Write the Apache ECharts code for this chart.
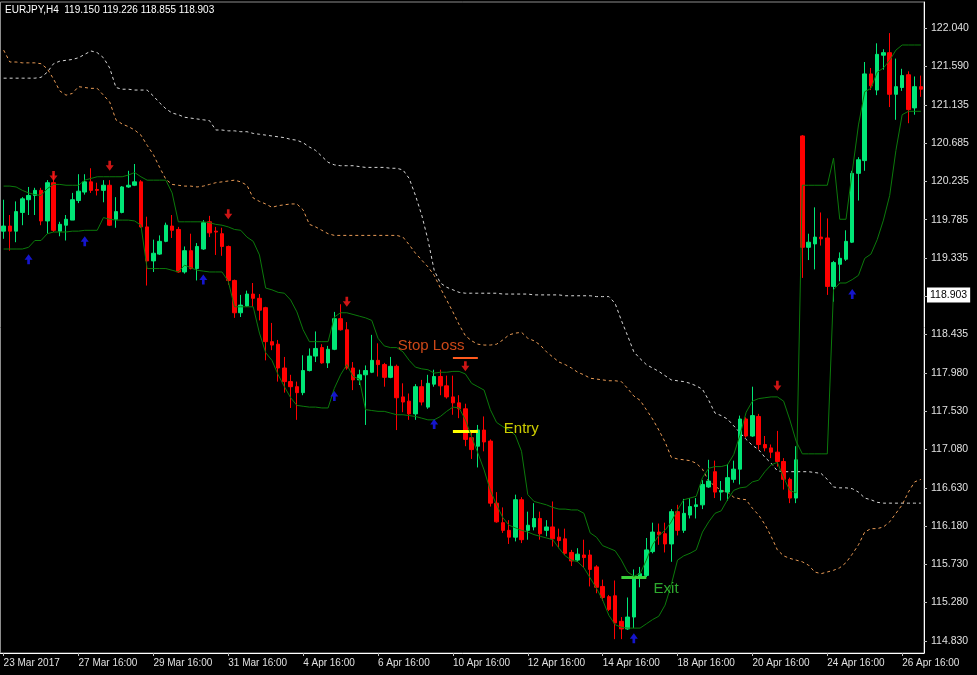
<!DOCTYPE html>
<html><head><meta charset="utf-8">
<script src="https://cdn.jsdelivr.net/npm/echarts@6/dist/echarts.min.js"></script>
<style>html,body{margin:0;padding:0;background:#000;}#c{width:977px;height:675px;}</style>
</head><body><div id="c"></div>
<script>
// ---- data (EURJPY H4) ----
const headerText = 'EURJPY,H4  119.150 119.226 118.855 118.903';
const xTickLabels = ['23 Mar 2017','27 Mar 16:00','29 Mar 16:00','31 Mar 16:00','4 Apr 16:00','6 Apr 16:00','10 Apr 16:00','12 Apr 16:00','14 Apr 16:00','18 Apr 16:00','20 Apr 16:00','24 Apr 16:00','26 Apr 16:00'];
const yTickValues = [122.040,121.590,121.135,120.685,120.235,119.785,119.335,118.435,117.980,117.530,117.080,116.630,116.180,115.730,115.280,114.830];
const yTickMarks = [122.040,121.590,121.135,120.685,120.235,119.785,119.335,118.885,118.435,117.980,117.530,117.080,116.630,116.180,115.730,115.280,114.830];
const lastPrice = 118.903;
const yMin = 114.687, yMax = 122.346;

const open = [
119.65,119.71,119.65,119.87,120.02,120.07,120.13,119.77,120.22,119.65,
119.72,119.78,120.01,120.11,120.23,120.14,120.13,120.19,119.79,119.87,
120.17,120.19,120.23,119.70,119.30,119.38,119.53,119.71,119.67,119.17,
119.42,119.21,119.44,119.76,119.65,119.62,119.47,119.07,118.69,118.77,
118.91,118.86,118.75,118.35,118.32,118.04,117.88,117.82,117.75,118.01,
118.18,118.28,118.10,118.26,118.62,118.49,118.04,117.90,117.96,117.99,
118.13,118.08,117.93,118.06,117.70,117.65,117.50,117.82,117.58,117.85,
117.94,117.83,117.70,117.63,117.56,117.22,117.12,117.31,117.18,116.45,
116.22,116.13,116.05,116.49,116.13,116.17,116.27,116.13,116.17,116.05,
116.03,115.87,115.78,115.84,115.84,115.70,115.47,115.35,115.36,115.06,
114.97,115.11,115.58,115.60,115.88,116.11,116.09,115.97,116.35,116.13,
116.31,116.41,116.43,116.64,116.82,116.58,116.58,116.73,116.85,117.44,
117.24,117.47,117.14,117.10,117.05,116.94,116.73,116.51,120.77,119.46,
119.50,119.58,119.57,119.00,119.26,119.32,119.52,120.33,120.48,121.50,
121.31,121.72,121.75,121.26,121.34,121.49,121.10,121.35];
const close = [
119.71,119.65,119.88,120.03,120.07,120.13,119.77,120.22,119.66,119.73,
119.79,120.02,120.12,120.23,120.13,120.13,120.19,119.72,119.88,120.17,
120.19,120.23,119.70,119.30,119.39,119.53,119.72,119.66,119.17,119.42,
119.21,119.47,119.75,119.63,119.64,119.47,119.07,118.69,118.78,118.91,
118.86,118.72,118.35,118.31,118.04,117.88,117.82,117.75,118.01,118.18,
118.27,118.10,118.26,118.62,118.49,118.04,117.90,117.96,118.01,118.13,
118.08,117.93,118.06,117.69,117.64,117.50,117.82,117.64,117.86,117.94,
117.83,117.70,117.63,117.56,117.20,117.08,117.31,117.17,116.45,116.23,
116.13,116.05,116.49,116.02,116.19,116.27,116.09,116.17,116.03,116.01,
115.86,115.77,115.85,115.81,115.67,115.46,115.34,115.20,115.04,114.97,
115.11,115.58,115.62,115.90,116.11,116.08,115.97,116.35,116.13,116.33,
116.41,116.43,116.67,116.71,116.58,116.60,116.75,116.85,117.44,117.24,
117.48,117.14,117.10,117.05,116.94,116.73,116.51,116.96,119.46,119.52,
119.58,119.56,119.00,119.28,119.33,119.53,120.33,120.49,121.50,121.36,
121.73,121.75,121.26,121.35,121.48,121.08,121.35,121.32];
const low = [
119.56,119.42,119.52,119.72,119.84,119.84,119.72,119.62,119.64,119.59,
119.54,119.78,119.98,120.08,120.10,120.07,119.99,119.71,119.69,119.86,
120.16,120.18,119.69,119.01,119.17,119.37,119.52,119.57,119.16,119.15,
119.20,119.07,119.43,119.58,119.37,119.36,119.02,118.63,118.64,118.76,
118.76,118.60,118.13,118.25,117.88,117.75,117.57,117.43,117.72,118.00,
118.11,118.09,118.04,118.25,118.48,118.02,117.78,117.84,117.37,117.98,
117.94,117.82,117.92,117.31,117.52,117.43,117.43,117.60,117.56,117.82,
117.72,117.68,117.49,117.45,117.12,116.97,116.87,117.06,116.41,116.22,
116.10,115.97,116.00,115.98,116.02,116.13,116.02,116.06,115.94,115.92,
115.84,115.71,115.76,115.69,115.47,115.39,115.30,115.18,114.85,114.85,
114.96,114.98,115.46,115.58,115.86,115.96,115.87,115.76,116.07,116.10,
116.27,116.27,116.38,116.63,116.51,116.48,116.48,116.69,116.67,117.22,
117.23,117.08,117.06,116.98,116.88,116.61,116.45,116.45,119.10,119.31,
119.20,119.48,118.90,118.82,119.06,119.30,119.51,120.01,120.36,121.31,
121.25,121.55,121.11,120.96,121.30,120.92,121.02,121.23];
const high = [
120.02,119.84,120.00,120.05,120.17,120.16,120.16,120.25,120.33,119.76,
119.84,120.10,120.32,120.32,120.39,120.22,120.25,120.25,120.05,120.18,
120.36,120.44,120.25,119.82,119.55,119.60,119.75,119.84,119.70,119.47,
119.62,119.51,119.78,119.83,119.70,119.69,119.48,119.08,118.90,118.95,
119.04,118.91,118.76,118.57,118.37,118.17,117.96,117.88,118.19,118.27,
118.47,118.32,118.30,118.70,118.79,118.58,118.11,118.02,118.07,118.43,
118.33,118.10,118.17,118.08,117.86,117.74,117.85,117.90,117.96,118.02,
118.02,117.95,117.95,117.72,117.62,117.30,117.37,117.47,117.20,116.58,
116.40,116.25,116.55,116.52,116.35,116.45,116.35,116.25,116.47,116.15,
116.15,115.90,115.92,116.02,115.90,115.72,115.55,115.37,115.54,115.11,
115.34,115.67,115.70,116.04,116.22,116.21,116.22,116.38,116.43,116.50,
116.51,116.51,116.72,116.96,116.95,116.71,116.91,116.95,117.48,117.46,
117.82,117.50,117.24,117.14,117.30,116.98,116.75,117.12,120.78,119.62,
119.93,119.87,119.80,119.30,119.40,119.66,120.36,120.52,121.64,121.57,
121.86,121.79,121.98,121.68,121.56,121.53,121.47,121.48];

const channelA = [
120.18,120.18,120.17,120.13,120.10,120.08,120.07,120.15,120.20,120.20,
120.19,120.19,120.19,120.25,120.27,120.29,120.29,120.29,120.29,120.29,
120.31,120.34,120.29,120.25,120.25,120.25,120.25,120.10,119.76,119.76,
119.76,119.76,119.76,119.75,119.73,119.72,119.70,119.67,119.66,119.58,
119.53,119.37,118.98,118.96,118.93,118.92,118.84,118.70,118.49,118.35,
118.35,118.35,118.35,118.64,118.69,118.69,118.67,118.65,118.63,118.60,
118.39,118.30,118.28,118.28,118.23,118.13,118.05,118.03,118.02,117.98,
117.99,117.99,118.00,118.00,117.97,117.86,117.82,117.78,117.55,117.40,
117.35,117.31,117.25,117.06,116.55,116.47,116.45,116.43,116.40,116.38,
116.38,116.37,116.37,116.33,116.10,116.05,115.95,115.92,115.89,115.78,
115.64,115.59,115.62,115.78,115.96,116.07,116.13,116.23,116.37,116.49,
116.51,116.53,116.75,116.86,116.88,116.88,116.90,117.02,117.25,117.52,
117.65,117.68,117.69,117.70,117.70,117.65,117.43,117.18,117.03,117.03,
117.03,117.03,117.03,118.96,119.04,119.04,119.08,119.13,119.33,119.38,
119.55,119.78,120.07,120.60,121.02,121.06,121.06,121.06];
const channelB = [
119.44,119.44,119.44,119.44,119.46,119.54,119.54,119.62,119.64,119.64,
119.64,119.65,119.65,119.66,119.66,119.66,119.81,119.79,119.78,119.78,
119.78,119.77,119.72,119.21,119.21,119.21,119.21,119.19,119.17,119.25,
119.22,119.19,119.18,119.17,119.17,119.17,119.06,118.76,118.76,118.76,
118.76,118.45,118.22,118.13,117.96,117.82,117.69,117.60,117.59,117.58,
117.58,117.57,117.57,117.80,117.96,118.08,117.94,117.91,117.55,117.54,
117.53,117.53,117.51,117.49,117.49,117.48,117.47,117.45,117.43,117.43,
117.47,117.53,117.58,117.57,117.43,117.23,117.04,116.84,116.60,116.43,
116.28,116.19,116.16,116.13,116.11,116.08,116.06,116.04,116.02,115.92,
115.83,115.78,115.76,115.69,115.57,115.45,115.31,115.13,115.02,114.99,
114.98,114.98,114.98,115.03,115.08,115.12,115.25,115.49,115.78,115.83,
115.86,115.90,116.11,116.23,116.33,116.36,116.49,116.60,116.63,116.64,
116.70,116.72,116.82,116.90,116.93,116.75,116.60,116.57,120.19,120.19,
120.19,120.19,120.19,120.51,119.79,119.79,120.35,120.90,121.29,121.33,
121.52,121.57,121.66,121.78,121.84,121.84,121.84,121.84];
const slowWhite = [
121.45,121.45,121.45,121.45,121.45,121.45,121.46,121.52,121.62,121.65,
121.66,121.67,121.69,121.73,121.77,121.75,121.69,121.57,121.34,121.32,
121.32,121.31,121.31,121.31,121.24,121.16,121.09,121.04,121.02,120.99,
120.98,120.97,120.96,120.95,120.84,120.84,120.83,120.83,120.82,120.82,
120.80,120.79,120.78,120.77,120.76,120.75,120.73,120.72,120.69,120.64,
120.60,120.53,120.46,120.43,120.42,120.42,120.42,120.41,120.40,120.40,
120.40,120.40,120.39,120.39,120.37,120.27,120.07,119.84,119.55,119.19,
119.04,118.99,118.96,118.93,118.92,118.92,118.92,118.92,118.92,118.92,
118.91,118.91,118.91,118.91,118.91,118.90,118.90,118.90,118.90,118.90,
118.89,118.89,118.89,118.89,118.89,118.88,118.88,118.88,118.80,118.60,
118.42,118.23,118.15,118.08,118.04,118.00,117.95,117.90,117.89,117.88,
117.86,117.83,117.79,117.66,117.51,117.48,117.44,117.36,117.28,117.20,
117.13,117.08,116.99,116.92,116.83,116.82,116.82,116.82,116.82,116.82,
116.81,116.80,116.73,116.64,116.63,116.63,116.62,116.58,116.51,116.49,
116.46,116.45,116.45,116.45,116.45,116.45,116.45,116.45];
const slowOrange = [
121.78,121.64,121.64,121.63,121.63,121.63,121.62,121.56,121.44,121.30,
121.25,121.27,121.35,121.34,121.33,121.33,121.25,121.17,120.96,120.91,
120.88,120.84,120.78,120.66,120.55,120.40,120.26,120.20,120.19,120.18,
120.18,120.17,120.18,120.20,120.22,120.23,120.24,120.25,120.23,120.19,
120.04,120.00,119.97,119.93,119.95,119.96,119.97,119.97,119.90,119.73,
119.70,119.66,119.62,119.60,119.60,119.60,119.60,119.60,119.60,119.60,
119.60,119.60,119.60,119.60,119.58,119.49,119.39,119.31,119.23,119.13,
118.98,118.84,118.70,118.55,118.42,118.36,118.32,118.31,118.31,118.32,
118.37,118.43,118.45,118.46,118.39,118.36,118.31,118.23,118.17,118.11,
118.08,118.04,117.99,117.96,117.92,117.91,117.90,117.89,117.89,117.88,
117.80,117.71,117.66,117.55,117.44,117.31,117.17,116.99,116.97,116.96,
116.95,116.92,116.85,116.71,116.65,116.60,116.58,116.52,116.50,116.49,
116.39,116.31,116.20,116.06,115.90,115.83,115.80,115.78,115.76,115.72,
115.64,115.62,115.64,115.66,115.69,115.75,115.85,115.96,116.11,116.15,
116.15,116.17,116.23,116.33,116.43,116.58,116.70,116.73];

const sellArrows = [[8,120.30],[17,120.42],[36,119.85],[55,118.82],[74,118.06],[124,117.83]];
const buyArrows = [[4,119.32],[13,119.53],[32,119.08],[53,117.71],[69,117.38],[101,114.86],[136,118.91]];
const noteTexts = ['Stop Loss','Entry','Exit'];
const noteAt = [[63,118.30],[80,117.32],[104,115.44]];
const levelNames = ['Stop Loss','Entry','Exit'];
const levelPrice = [118.16,117.30,115.58];
const levelBars = [[72,76],[72,76],[99,103]];

// ---- build ----
const categories = open.map((_, i) => String(i));
const candles = open.map((o, i) => [o, close[i], low[i], high[i]]);
const noteColors = {'Stop Loss':'#ff5a1e','Entry':'#ffff00','Exit':'#3ad23a'};
const levelWidth = {'Stop Loss':2,'Entry':3,'Exit':3};
const FONT = 'Liberation Sans, Arial, sans-serif';
const BULL = '#00e676', BEAR = '#ff0000';

const option = {
  animation: false,
  backgroundColor: '#000000',
  title: { text: headerText, left: 5, top: 5, padding: 0, textStyle: { color: '#ffffff', fontSize: 10, fontWeight: 'normal', fontFamily: FONT } },
  grid: { left: 0.5, right: 53, top: 2, bottom: 22, show: true, borderColor: '#8c8c8c', borderWidth: 1, backgroundColor: 'transparent' },
  xAxis: {
    type: 'category', data: categories, boundaryGap: true,
    axisLine: { show: true, lineStyle: { color: '#ffffff', width: 1 } },
    axisTick: { show: true, alignWithLabel: true, interval: (i) => i % 12 === 0, length: 3, lineStyle: { color: '#bdbdbd' } },
    axisLabel: { show: true, interval: (i) => i % 12 === 0, formatter: (v, i) => xTickLabels[i / 12] || '', align: 'left', color: '#e0e0e0', fontSize: 10, fontFamily: FONT, margin: 5 },
    splitLine: { show: false }
  },
  yAxis: {
    type: 'value', position: 'right', min: yMin, max: yMax,
    axisLine: { show: true, lineStyle: { color: '#ffffff', width: 1 } },
    axisTick: { show: true, length: 3, customValues: yTickMarks, lineStyle: { color: '#bdbdbd' } },
    axisLabel: { show: true, customValues: yTickValues, formatter: (v) => Number(v).toFixed(3), color: '#e0e0e0', fontSize: 10.5, fontFamily: FONT, margin: 7 },
    splitLine: { show: false }
  },
  series: [
    { name: 'slowWhite', type: 'line', data: slowWhite, showSymbol: false, symbol: 'none', silent: true, z: 3,
      lineStyle: { color: '#d6d6d6', width: 1, type: [3, 3] } },
    { name: 'slowOrange', type: 'line', data: slowOrange, showSymbol: false, symbol: 'none', silent: true, z: 3,
      lineStyle: { color: '#e89a55', width: 1, type: [3, 3] } },
    { name: 'price', type: 'candlestick', data: candles, barWidth: 4, z: 4,
      itemStyle: { color: BULL, color0: BEAR, borderColor: BULL, borderColor0: BEAR, borderWidth: 1 },
      markLine: {
        silent: true, symbol: ['none', 'none'], animation: false,
        data: [
          { yAxis: lastPrice, lineStyle: { color: 'rgba(0,0,0,0)', width: 0 },
            label: { show: true, position: 'end', formatter: lastPrice.toFixed(3), color: '#000000', backgroundColor: '#ffffff', padding: [2, 3, 2, 3], fontSize: 10.5, fontFamily: FONT, distance: 3 } }
        ].concat(levelNames.map((n, k) => [
          { coord: [levelBars[k][0], levelPrice[k]], lineStyle: { color: noteColors[n], width: levelWidth[n], type: 'solid' }, label: { show: false } },
          { coord: [levelBars[k][1], levelPrice[k]] }
        ]))
      }
    },
    { name: 'channelA', type: 'line', data: channelA, showSymbol: false, symbol: 'none', silent: true, z: 5,
      lineStyle: { color: '#0b7a0b', width: 1 } },
    { name: 'channelB', type: 'line', data: channelB, showSymbol: false, symbol: 'none', silent: true, z: 5,
      lineStyle: { color: '#0b7a0b', width: 1 } },
    { name: 'sell', type: 'scatter', data: sellArrows, z: 6, silent: true,
      symbol: 'path://M3,0 L6,0 L6,5 L9,5 L4.5,11 L0,5 L3,5 Z', symbolSize: [8, 10], itemStyle: { color: '#ff1a1a' } },
    { name: 'buy', type: 'scatter', data: buyArrows, z: 6, silent: true,
      symbol: 'path://M4.5,0 L9,6 L6,6 L6,11 L3,11 L3,6 L0,6 Z', symbolSize: [8, 10], itemStyle: { color: '#1a1aff' } },
    { name: 'notes', type: 'scatter', z: 7, silent: true, symbolSize: 0,
      data: noteTexts.map((t, k) => ({ value: noteAt[k], name: t,
        label: { show: true, position: 'right', distance: 1, formatter: t, color: noteColors[t], fontSize: 15, fontFamily: FONT } })) }
  ]
};
const chart = echarts.init(document.getElementById('c'), null, { renderer: 'canvas' });
chart.setOption(option);
</script></body></html>
